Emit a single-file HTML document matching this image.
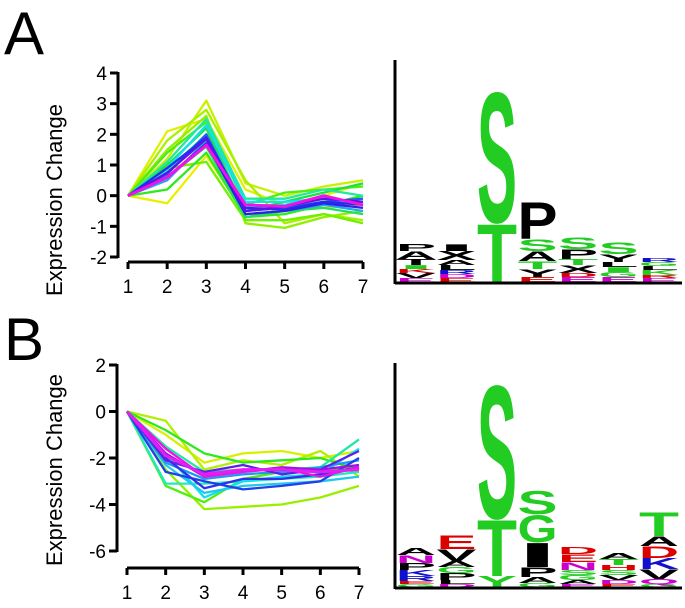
<!DOCTYPE html>
<html><head><meta charset="utf-8"><style>
html,body{margin:0;padding:0;background:#fff;}
svg{display:block;font-family:"Liberation Sans",Arial,sans-serif;}
</style></head><body>
<svg id="fig" width="685" height="608" viewBox="0 0 685 608"></svg>
<script>
// ---------- Data ----------
const timePoints = [1,2,3,4,5,6,7];
const yTicksA = [4,3,2,1,0,-1,-2];
const yTicksB = [2,0,-2,-4,-6];
const seriesA = [
 [0,-0.25,1.3,-0.6,-0.5,-0.4,-0.3],
 [0,2.1,2.5,0.2,-0.3,0,0.4],
 [0,1.2,3.1,0.4,0,0.3,0.5],
 [0,1.8,2.8,0.5,-0.9,-0.6,-0.8],
 [0,1.5,2.6,-0.9,-1.05,-0.7,-0.5],
 [0,0.9,1.1,-0.8,-0.8,-0.6,-0.9],
 [0,1.4,2.4,-0.3,0.1,0.2,0.3],
 [0,0.2,1.4,-0.7,-0.6,-0.3,0.0],
 [0,1.0,2.2,-0.5,-0.2,0.1,0.4],
 [0,0.6,1.6,-0.7,-0.5,-0.4,-0.6],
 [0,1.1,2.5,-0.1,-0.1,0.2,0.0],
 [0,0.8,2.0,-0.4,-0.3,-0.1,-0.2],
 [0,0.9,2.3,-0.2,-0.2,-0.1,-0.3],
 [0,0.5,1.8,-0.6,-0.5,-0.3,-0.5],
 [0,0.7,2.0,-0.5,-0.4,-0.2,-0.1],
 [0,0.9,1.9,-0.4,-0.45,-0.2,-0.3],
 [0,0.6,1.7,-0.6,-0.5,-0.25,-0.4],
 [0,0.75,1.85,-0.5,-0.35,-0.1,-0.2],
 [0,0.6,1.65,-0.3,-0.35,0,-0.3]
];
const colorsA = ["#e8f000","#e0f000","#c8f000","#a8f000","#90f000","#70f000","#50ee10","#30e820","#20e040","#20e060","#20e8a0","#20e0d8","#10e0f0","#20a8f0","#2060f0","#2030e8","#3020e8","#6010e8","#f010e8"];
const seriesB = [
 [0,-1.0,-2.2,-1.8,-1.7,-2.0,-1.7],
 [0,-2.5,-4.2,-4.1,-4.0,-3.7,-3.2],
 [0,-0.4,-2.5,-2.1,-2.3,-1.7,-2.8],
 [0,-0.8,-1.8,-2.2,-2.1,-2.0,-2.5],
 [0,-3.2,-3.9,-2.9,-2.6,-2.6,-2.3],
 [0,-1.5,-2.6,-2.5,-2.5,-2.4,-1.2],
 [0,-3.1,-3.1,-3.0,-2.9,-2.8,-2.6],
 [0,-1.8,-3.7,-3.0,-2.8,-2.7,-1.6],
 [0,-2.3,-3.5,-3.2,-3.1,-3.0,-2.8],
 [0,-2.2,-2.9,-2.7,-2.6,-2.4,-2.1],
 [0,-2.6,-3.0,-3.35,-3.2,-3.0,-2.0],
 [0,-2.0,-3.3,-2.9,-2.9,-2.7,-2.4],
 [0,-2.1,-2.6,-2.3,-2.7,-2.5,-1.7],
 [0,-1.8,-2.8,-2.6,-2.4,-2.5,-2.3],
 [0,-1.6,-2.8,-2.6,-2.45,-2.8,-2.4],
 [0,-1.9,-2.7,-2.5,-2.5,-2.6,-2.5]
];
const colorsB = ["#d8f000","#98f000","#b0f000","#30e820","#50ee10","#20e8a0","#20e8c0","#10e0f0","#20c8f0","#2098f0","#2040e8","#3030e8","#6020e8","#a010e8","#f010e8","#e020f0"];
// sequence logo columns: [letter, colour, bits] from bottom up
const logoA = [
 [['E','#cc00cc',0.08],['V','#000',0.1],['K','#d00',0.08],['I','#2c2',0.08],['T','#000',0.12],['A','#000',0.16],['P','#000',0.14]],
 [['E','#d00',0.08],['D','#c0c',0.08],['R','#11c',0.08],['L','#000',0.1],['A','#000',0.1],['X','#000',0.18],['I','#000',0.14]],
 [['T','#2c2',1.2],['S','#2c2',2.68]],
 [['E','#d00',0.1],['Y','#000',0.16],['T','#2c2',0.16],['A','#000',0.2],['S','#2c2',0.24],['P','#000',0.76]],
 [['E','#c0c',0.1],['D','#d00',0.08],['X','#000',0.16],['T','#2c2',0.12],['P','#000',0.2],['S','#2c2',0.24]],
 [['E','#c0c',0.1],['G','#2c2',0.1],['I','#2c2',0.1],['L','#000',0.1],['Y','#000',0.16],['S','#2c2',0.24]],
 [['E','#c0c',0.08],['R','#d00',0.06],['K','#2c2',0.1],['L','#000',0.08],['G','#2c2',0.08],['R','#11c',0.08]]
];
const logoB = [
 [['G','#2c2',0.06],['E','#d00',0.06],['R','#11c',0.1],['K','#11c',0.12],['P','#000',0.14],['N','#c0c',0.16],['A','#000',0.14]],
 [['D','#c0c',0.06],['L','#000',0.08],['P','#000',0.14],['G','#2c2',0.12],['A','#000',0.12],['V','#000',0.24],['E','#d00',0.28]],
 [['Y','#2c2',0.22],['T','#2c2',1.16],['S','#2c2',2.74]],
 [['G','#2c2',0.08],['A','#000',0.12],['P','#000',0.2],['I','#000',0.5],['G','#2c2',0.56],['S','#2c2',0.48]],
 [['E','#c0c',0.06],['A','#000',0.08],['G','#2c2',0.1],['S','#2c2',0.1],['N','#c0c',0.16],['E','#d00',0.16],['D','#d00',0.14]],
 [['E','#d00',0.06],['D','#c0c',0.08],['V','#000',0.1],['S','#2c2',0.1],['H','#d00',0.1],['T','#2c2',0.12],['A','#000',0.12]],
 [['G','#2c2',0.06],['Q','#c0c',0.1],['V','#000',0.2],['K','#11c',0.22],['D','#d00',0.24],['A','#000',0.2],['T','#2c2',0.5]]
];

// ---------- Helpers ----------
const NS = "http://www.w3.org/2000/svg";
const svg = document.getElementById('fig');
function mk(tag, attrs, parent){
  const e = document.createElementNS(NS, tag);
  for (const k in attrs) e.setAttribute(k, attrs[k]);
  (parent||svg).appendChild(e);
  return e;
}

function drawChart(cfg){
  const g = mk('g', {});
  
  
  const xs = v => cfg.x1 + (v-1)*(cfg.x7-cfg.x1)/6;
  const ys = v => cfg.yTop + (cfg.yMax - v)*(cfg.yBot-cfg.yTop)/(cfg.yMax-cfg.yMin);
  const ya = mk('line', {x1:cfg.axX, x2:cfg.axX, y1:ys(cfg.yMax)-1, y2:ys(cfg.yMin)+1, stroke:'#000','stroke-width':3}, g);
  
  
  cfg.yTicks.forEach(t=>{
    const tk = mk('line', {x1:cfg.axX-8, x2:cfg.axX, y1:ys(t), y2:ys(t), stroke:'#000','stroke-width':3}, g);
    
    
    const tl = mk('text', {x:cfg.axX-11, y:ys(t)+7, 'text-anchor':'end','font-size':19}, g);
    tl.textContent = t;
    
    
  });
  const xa = mk('line', {x1:xs(1), x2:xs(7), y1:cfg.xAxY, y2:cfg.xAxY, stroke:'#000','stroke-width':3}, g);
  
  
  timePoints.forEach(t=>{
    const tk = mk('line', {x1:xs(t), x2:xs(t), y1:cfg.xAxY, y2:cfg.xAxY+7, stroke:'#000','stroke-width':3}, g);
    
    
    const tl = mk('text', {x:xs(t), y:cfg.xAxY+31, 'text-anchor':'middle','font-size':19}, g);
    tl.textContent = t;
    
    
  });
  const yt = mk('text', {x:0, y:0, 'text-anchor':'middle','font-size':22, transform:`translate(${cfg.titleX},${cfg.titleY}) rotate(-90)`}, g);
  yt.textContent = 'Expression Change';
  
  
  cfg.series.forEach((s,i)=>{
    const d = s.map((v,j)=>(j?'L':'M')+xs(timePoints[j]).toFixed(1)+','+ys(v).toFixed(1)).join(' ');
    const p = mk('path', {d:d, fill:'none', stroke:cfg.colors[i], 'stroke-width':i===cfg.series.length-1?3:2.3,'stroke-linejoin':'round'}, g);
    
    
  });
}

function drawLogo(cfg){
  const g = mk('g', {});
  
  
  cfg.cols.forEach((col,ci)=>{
    let yb = cfg.base;
    const x = cfg.x0 + ci*cfg.step;
    col.forEach(([ch,color,bits])=>{
      const h = bits*cfg.pxPerBit;
      const t = mk('text', {x:0, y:0, fill:color, 'font-size':100, 'font-weight':'bold',
        textLength:cfg.w, lengthAdjust:'spacingAndGlyphs',
        transform:`translate(${x},${yb.toFixed(1)}) scale(1,${(h/72).toFixed(4)})`}, g);
      t.textContent = ch;
      
      
      yb -= h;
    });
  });
  const va = mk('line', {x1:cfg.axX, x2:cfg.axX, y1:cfg.axTop, y2:cfg.base+2, stroke:'#000','stroke-width':3}, g);
  
  
  const ha = mk('line', {x1:cfg.axX, x2:682, y1:cfg.base+1, y2:cfg.base+1, stroke:'#000','stroke-width':3}, g);
  
  
}

const la = mk('text', {x:4, y:54, 'font-size':60});
la.textContent = 'A';


const lb = mk('text', {x:4, y:360, 'font-size':60});
lb.textContent = 'B';



drawChart({name:'chart-a', series:seriesA, colors:colorsA, yTicks:yTicksA, yMax:4, yMin:-2,
  yTop:73, yBot:257, axX:118, x1:128, x7:363, xAxY:262, titleX:62, titleY:200});
drawChart({name:'chart-b', series:seriesB, colors:colorsB, yTicks:yTicksB, yMax:2, yMin:-6,
  yTop:365, yBot:551, axX:117, x1:127, x7:359, xAxY:568, titleX:62, titleY:470});

drawLogo({name:'sequence-logo-a', cols:logoA, x0:396, step:40.5, w:40, base:282, pxPerBit:50, axX:395, axTop:60});
drawLogo({name:'sequence-logo-b', cols:logoB, x0:396, step:40.5, w:40, base:587, pxPerBit:50, axX:395, axTop:363});
</script>
</body></html>
